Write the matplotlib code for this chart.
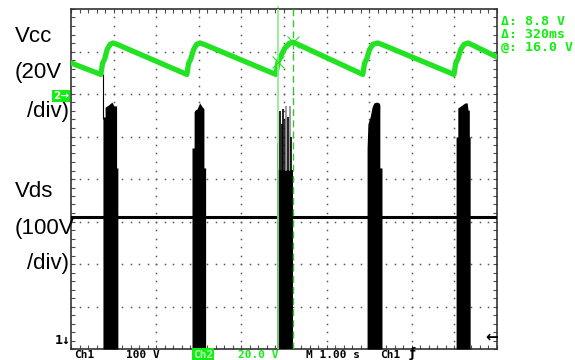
import numpy as np
import matplotlib.pyplot as plt

# scope screen: 10 x 8 divisions, values read in divisions
W, H = 575, 360

# Ch2 (Vcc) trace, green sawtooth
vcc_t = [0.00, 0.70, 0.74, 0.79, 0.85, 0.92, 0.99, 1.10,
         2.72, 2.76, 2.81, 2.88, 2.95, 3.03, 3.14,
         4.81, 4.86, 4.93, 5.02, 5.12, 5.21, 5.32,
         6.85, 6.89, 6.94, 7.01, 7.09, 7.20, 7.31,
         8.99, 9.03, 9.08, 9.15, 9.23, 9.32, 9.43, 10.0]
vcc_y = [6.73, 6.46, 6.72, 6.82, 7.05, 7.17, 7.20, 7.16,
         6.46, 6.72, 6.82, 7.05, 7.17, 7.20, 7.16,
         6.46, 6.75, 6.90, 7.08, 7.19, 7.22, 7.17,
         6.46, 6.72, 6.82, 7.05, 7.17, 7.20, 7.16,
         6.46, 6.72, 6.82, 7.05, 7.17, 7.20, 7.15, 6.87]

# Ch1 (Vds) idle level
vds_base = 3.10

# switching bursts: envelope (x, top) in divisions, bottom is off screen
b1_x = [0.75, 0.80, 0.80, 0.82, 0.89, 0.96, 1.01, 1.06, 1.07, 1.07, 1.10]
b1_y = [5.46, 5.46, 5.69, 5.70, 5.75, 5.81, 5.72, 5.72, 5.72, 4.26, 4.26]
b2_x = [2.84, 2.89, 2.89, 2.91, 2.96, 3.02, 3.08, 3.12, 3.12, 3.16]
b2_y = [4.73, 4.73, 5.58, 5.62, 5.65, 5.79, 5.70, 5.65, 4.26, 4.26]
b3_x = [4.84, 4.87, 4.87, 5.20]
b3_y = [4.85, 4.85, 4.21, 4.21]
b4_x = [6.95, 6.97, 7.00, 7.02, 7.07, 7.11, 7.18, 7.23, 7.25, 7.25, 7.30]
b4_y = [4.73, 5.30, 5.40, 5.45, 5.70, 5.79, 5.81, 5.79, 5.75, 4.26, 4.26]
b5_x = [9.04, 9.08, 9.08, 9.18, 9.25, 9.30, 9.32, 9.35, 9.35, 9.37]
b5_y = [4.99, 4.99, 5.67, 5.74, 5.79, 5.79, 5.62, 5.62, 4.99, 4.99]
bursts = [(b1_x, b1_y), (b2_x, b2_y), (b3_x, b3_y), (b4_x, b4_y), (b5_x, b5_y)]

# thin ringing spikes in the third burst
spike_x = [4.90, 4.95, 4.98, 5.03, 5.05, 5.10, 5.14, 5.17]
spike_y = [5.60, 5.30, 5.65, 5.40, 5.72, 5.45, 5.72, 5.00]
spike_c = ['k', 'k', 'k', 'k', '0.55', 'k', '0.55', 'k']

# cursors
cur_t = [4.86, 5.21]
cur_y = [6.75, 7.22]
readout = ['\u0394: 8.8 V', '\u0394: 320ms', '@: 16.0 V']

green = '#22e322'
tgreen = '#11ee11'

fig = plt.figure(figsize=(W / 100, H / 100), dpi=100)
ax = fig.add_axes([71 / W, 11 / H, 426 / W, 340 / H])
ax.set_xlim(0, 10)
ax.set_ylim(0, 8)

# graticule dots
pos = np.arange(0, 8.01, 0.2)
for xi in range(1, 10):
    ax.plot([xi] * len(pos), pos, ls='None', marker='s', ms=1.1, color='0.35', mew=0)
posx = np.arange(0, 10.01, 0.2)
for yi in range(1, 8):
    ax.plot(posx, [yi] * len(posx), ls='None', marker='s', ms=1.1, color='0.35', mew=0)

ax.set_xticks(np.arange(0, 10.01, 0.2))
ax.set_yticks(np.arange(0, 8.01, 0.2))
ax.tick_params(direction='in', length=3, width=0.8, color='0.3',
               top=True, right=True, labelbottom=False, labelleft=False)
for s in ax.spines.values():
    s.set_linewidth(1.2)
    s.set_color('0.2')

# Vds
ax.axhline(vds_base, color='k', lw=2.2, zorder=3)
for bx, by in bursts:
    ax.fill_between(bx, 0, by, color='k', lw=0, zorder=4)
ax.vlines(spike_x, 4.2, spike_y, colors=spike_c, lw=1.2, zorder=4)
ax.vlines(0.76, 5.4, 6.46, colors='k', lw=0.8, zorder=4)

# Vcc
ax.plot(vcc_t, vcc_y, color=green, lw=3.8, solid_joinstyle='round', zorder=5)

# cursors
ax.axvline(cur_t[0], color='#8eea8e', lw=1.2, zorder=6)
ax.plot([cur_t[0], cur_t[0]], [8.0, 8.05], color='#8eea8e', lw=1.2, clip_on=False)
ax.axvline(cur_t[1], color='#2ecc2e', lw=1.0, ls=(0, (5, 3)), zorder=6)
ax.plot(cur_t, cur_y, ls='None', marker='x', ms=9, mew=0.8, color=green, zorder=7)

# left labels
def px(x, y):
    return x / W, 1 - y / H

lab = dict(fontsize=16, family='Liberation Sans', va='baseline', ha='left')
fig.text(*px(15, 42), 'Vcc', **lab)
fig.text(*px(15, 78), '(20V', **lab)
fig.text(*px(27, 117), '/div)', **lab)
fig.text(*px(15, 197), 'Vds', **lab)
fig.text(*px(15, 234), '(100V', **lab)
fig.text(*px(27, 269), '/div)', **lab)

# scope annotations
mono = dict(family='DejaVu Sans Mono', fontweight='bold', fontsize=9.5, va='baseline')
for i, s in enumerate(readout):
    fig.text(*px(501, 25 + 13 * i), s, color=tgreen, **mono)

fig.text(*px(53, 99), '2\u2192', color='white', fontsize=7.5, fontweight='bold',
         family='DejaVu Sans', va='baseline',
         bbox=dict(boxstyle='square,pad=0.1', fc=tgreen, ec='none'))
fig.text(*px(55, 344), '1\u2193', color='k', **mono)
fig.text(*px(485, 341), '\u2190', color='k', family='DejaVu Sans', fontweight='bold',
         fontsize=11, va='baseline')

bot = dict(family='DejaVu Sans Mono', fontweight='bold', fontsize=8, va='baseline')
by = 357.5
fig.text(*px(74, by), 'Ch1', color='k', **bot)
fig.text(*px(126, by), '100 V', color='k', **bot)
fig.text(*px(193, by), 'Ch2', color='#bbffbb',
         bbox=dict(boxstyle='square,pad=0.1', fc=tgreen, ec='none'), **bot)
fig.text(*px(238, by), '20.0 V', color=tgreen, **bot)
fig.text(*px(306, by), 'M 1.00 s', color='k', **bot)
fig.text(*px(380, by), 'Ch1', color='k', **bot)
fig.text(*px(410, by), '\u0192', color='k', family='DejaVu Sans', fontweight='bold',
         fontsize=9, va='baseline')

fig.savefig('out.png', dpi=100)
